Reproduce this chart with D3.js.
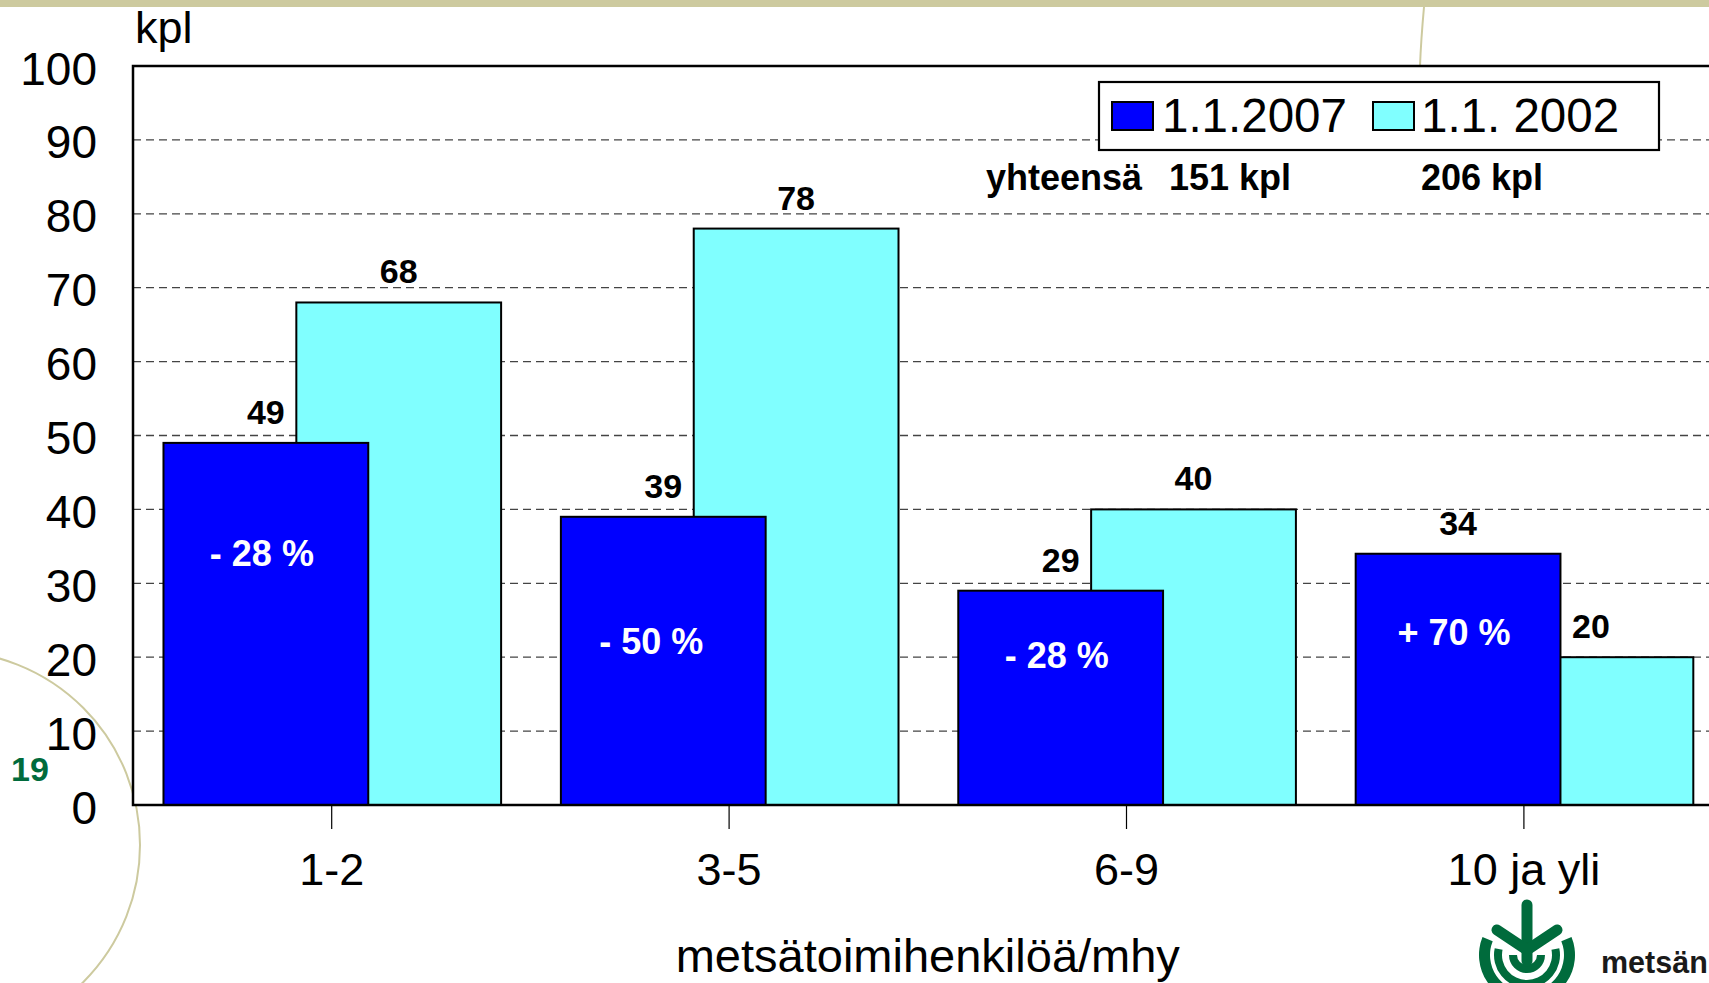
<!DOCTYPE html>
<html>
<head>
<meta charset="utf-8">
<script src="https://cdn.jsdelivr.net/npm/d3@7"></script>
<style>
  html, body { margin: 0; padding: 0; background: #fff; overflow: hidden; }
  svg { display: block; }
  text { font-family: "Liberation Sans", Arial, Helvetica, sans-serif; }
</style>
</head>
<body>
<svg id="chart" width="1709" height="983"></svg>
<script>
// ---- data ----
const categories = ["1-2", "3-5", "6-9", "10 ja yli"];
const series2007 = [49, 39, 29, 34];
const series2002 = [68, 78, 40, 20];
const seriesNames = ["1.1.2007", "1.1. 2002"];
const changeLabels = ["- 28 %", "- 50 %", "- 28 %", "+ 70 %"];
const changeLabelAt = [32.3, 20.4, 18.5, 21.65];   // value-axis anchor of the change labels
const yTicks = [0, 10, 20, 30, 40, 50, 60, 70, 80, 90, 100];
const totalsLabel = "yhteensä";
const totals = ["151 kpl", "206 kpl"];
const yUnit = "kpl";
const xTitle = "metsätoimihenkilöä/mhy";
const pageNumber = "19";

// ---- layout ----
const W = 1709, H = 983;
const plot = { left: 133, top: 66, right: 133 + 4 * 397.4, bottom: 805 };
const colors = { c2007: "#0000FF", c2002: "#80FFFF", beige: "#CDCA9F", green: "#006B3C" };

const svg = d3.select("#chart");

const x = d3.scaleBand().domain(categories).range([plot.left, plot.right]).padding(0);
const y = d3.scaleLinear().domain([0, 100]).range([plot.bottom, plot.top]);
const bw = x.bandwidth();
const barW = bw * 0.5153;
const off1 = bw * 0.0767;
const off2 = off1 + bw * 0.3343;

// top band
svg.append("rect").attr("x", 0).attr("y", 0).attr("width", W).attr("height", 7).attr("fill", colors.beige);

// decorative curves (behind plot)
svg.append("circle").attr("cx", -54).attr("cy", 845).attr("r", 194)
  .attr("fill", "none").attr("stroke", colors.beige).attr("stroke-width", 2);
svg.append("path").attr("d", "M1424,7 Q1421,40 1420,66")
  .attr("fill", "none").attr("stroke", colors.beige).attr("stroke-width", 2);

// plot background
svg.append("rect").attr("x", plot.left).attr("y", plot.top)
  .attr("width", plot.right - plot.left).attr("height", plot.bottom - plot.top)
  .attr("fill", "#fff");

// gridlines
svg.append("g").selectAll("line").data(yTicks.filter(d => d > 0 && d < 100)).join("line")
  .attr("x1", plot.left).attr("x2", plot.right)
  .attr("y1", d => y(d)).attr("y2", d => y(d))
  .attr("stroke", "#444").attr("stroke-width", 1.3).attr("stroke-dasharray", "8,5");

// bars: 2002 first (behind), then 2007
svg.append("g").selectAll("rect").data(categories).join("rect")
  .attr("x", (c) => x(c) + off2).attr("width", barW)
  .attr("y", (c, i) => y(series2002[i])).attr("height", (c, i) => y(0) - y(series2002[i]))
  .attr("fill", colors.c2002).attr("stroke", "#000").attr("stroke-width", 2);

svg.append("g").selectAll("rect").data(categories).join("rect")
  .attr("x", (c) => x(c) + off1).attr("width", barW)
  .attr("y", (c, i) => y(series2007[i])).attr("height", (c, i) => y(0) - y(series2007[i]))
  .attr("fill", colors.c2007).attr("stroke", "#000").attr("stroke-width", 2);

// plot border
svg.append("rect").attr("x", plot.left).attr("y", plot.top)
  .attr("width", plot.right - plot.left).attr("height", plot.bottom - plot.top)
  .attr("fill", "none").attr("stroke", "#000").attr("stroke-width", 2.5);

// x axis ticks & labels
const xAxis = d3.axisBottom(x).tickSize(24).tickSizeOuter(0).tickPadding(0);
const gx = svg.append("g").attr("transform", `translate(0,${plot.bottom})`).call(xAxis);
gx.select(".domain").remove();
gx.selectAll(".tick line").attr("stroke", "#000").attr("stroke-width", 1.2);
gx.selectAll(".tick text").attr("font-size", 45).attr("fill", "#000")
  .attr("y", 80).attr("dy", 0);

// y axis labels
const yAxis = d3.axisLeft(y).tickValues(yTicks).tickSize(0).tickPadding(0);
const gy = svg.append("g").attr("transform", `translate(97,0)`).call(yAxis);
gy.select(".domain").remove();
gy.selectAll(".tick text").attr("font-size", 46).attr("fill", "#000")
  .attr("x", 0).attr("dy", 0).attr("y", 18);

// unit & titles
svg.append("text").attr("x", 135).attr("y", 43).attr("font-size", 45).text(yUnit);
svg.append("text").attr("x", (plot.left + plot.right) / 2).attr("y", 972).attr("font-size", 47)
  .attr("text-anchor", "middle").text(xTitle);

// value labels
const lbl = svg.append("g").attr("font-weight", "bold").attr("font-size", 34)
  .attr("text-anchor", "middle").attr("fill", "#000");
categories.forEach((c, i) => {
  lbl.append("text").attr("x", x(c) + off1 + barW / 2).attr("y", y(series2007[i]) - 19).text(series2007[i]);
  lbl.append("text").attr("x", x(c) + off2 + barW / 2).attr("y", y(series2002[i]) - 19).text(series2002[i]);
});

// change labels (white inside blue bars)
svg.append("g").selectAll("text").data(categories).join("text")
  .attr("x", (c, i) => x(c) + off1 + barW / 2 - (i === 1 ? 12 : 4))
  .attr("y", (c, i) => y(changeLabelAt[i]))
  .attr("text-anchor", "middle").attr("font-weight", "bold").attr("font-size", 36)
  .attr("fill", "#fff").attr("xml:space", "preserve").style("white-space", "pre")
  .text((c, i) => changeLabels[i]);

// legend
const lg = svg.append("g");
lg.append("rect").attr("x", 1099).attr("y", 82).attr("width", 560).attr("height", 68)
  .attr("fill", "#fff").attr("stroke", "#000").attr("stroke-width", 2.2);
const legendItems = [
  { name: seriesNames[0], color: colors.c2007, sx: 1112, tx: 1162 },
  { name: seriesNames[1], color: colors.c2002, sx: 1373, tx: 1421 }
];
legendItems.forEach(it => {
  lg.append("rect").attr("x", it.sx).attr("y", 102).attr("width", 41).attr("height", 28)
    .attr("fill", it.color).attr("stroke", "#000").attr("stroke-width", 2);
  lg.append("text").attr("x", it.tx).attr("y", 132).attr("font-size", 47.5)
    .style("white-space", "pre").text(it.name);
});

// totals
const tg = svg.append("g").attr("font-weight", "bold").attr("font-size", 36).attr("fill", "#000");
tg.append("text").attr("x", 986).attr("y", 190).text(totalsLabel);
tg.append("text").attr("x", 1169).attr("y", 190).text(totals[0]);
tg.append("text").attr("x", 1421).attr("y", 190).text(totals[1]);

// page number
svg.append("text").attr("x", 11).attr("y", 781).attr("font-size", 34).attr("font-weight", "bold")
  .attr("fill", colors.green).text(pageNumber);

// logo
const logo = svg.append("g").attr("transform", "translate(1527,955)");
const arc = d3.arc();
const deg = Math.PI / 180;
logo.append("path").attr("d", arc({ innerRadius: 37, outerRadius: 48, startAngle: 68 * deg, endAngle: 292 * deg })).attr("fill", colors.green);
logo.append("path").attr("d", arc({ innerRadius: 25, outerRadius: 33, startAngle: 78 * deg, endAngle: 282 * deg })).attr("fill", colors.green);
logo.append("path").attr("d", arc({ innerRadius: 10, outerRadius: 18, startAngle: 90 * deg, endAngle: 270 * deg })).attr("fill", colors.green);
logo.append("line").attr("x1", 0).attr("y1", -50).attr("x2", 0).attr("y2", 6)
  .attr("stroke", colors.green).attr("stroke-width", 11).attr("stroke-linecap", "round");
logo.append("path").attr("d", "M-30,-25 L0,-5 L30,-25")
  .attr("fill", "none").attr("stroke", colors.green).attr("stroke-width", 11)
  .attr("stroke-linecap", "round").attr("stroke-linejoin", "round");
svg.append("text").attr("x", 1601).attr("y", 973).attr("font-size", 30.5).attr("font-weight", "bold")
  .attr("fill", "#1a1a1a").text("metsän");
</script>
</body>
</html>
